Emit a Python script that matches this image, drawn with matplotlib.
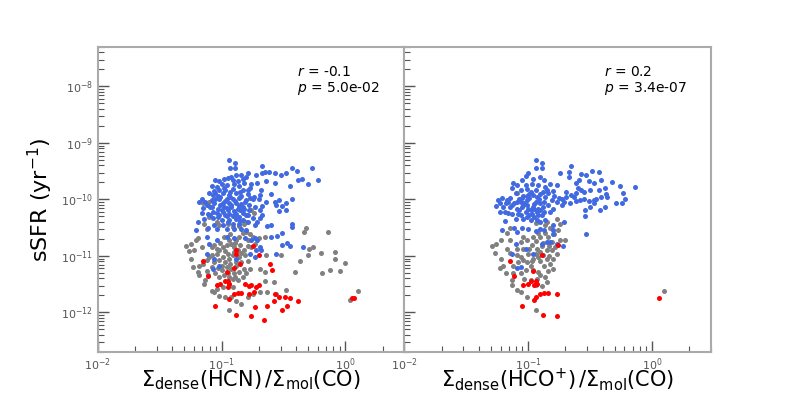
import numpy as np
import matplotlib.pyplot as plt
from matplotlib import ticker

# log10 values: (log10 ratio, log10 sSFR)
hcn_blue = [
    (-0.94, -9.31), (-0.89, -9.36), (-0.93, -9.45), (-0.89, -9.45), (-0.67, -9.41), (-0.27, -9.44),
    (-0.43, -9.45), (-0.39, -9.49), (-0.72, -9.56), (-0.67, -9.53), (-0.65, -9.52), (-0.62, -9.52),
    (-0.57, -9.53), (-0.52, -9.56), (-0.48, -9.53), (-0.79, -9.54), (-0.80, -9.60), (-0.84, -9.57),
    (-0.88, -9.56), (-0.92, -9.60), (-0.95, -9.62), (-0.98, -9.64), (-1.02, -9.67), (-1.05, -9.66),
    (-1.08, -9.76), (-0.57, -9.70), (-0.71, -9.70), (-0.76, -9.72), (-0.64, -9.67), (-0.35, -9.64),
    (-0.38, -9.65), (-0.22, -9.66), (-0.30, -9.73), (-0.45, -9.76), (-0.68, -9.83), (-0.77, -9.80),
    (-0.83, -9.83), (-0.91, -9.82), (-0.97, -9.83), (-1.02, -9.83), (-1.06, -9.85), (-1.10, -9.89),
    (-0.60, -9.91), (-0.74, -9.95), (-0.69, -9.92), (-0.79, -9.91), (-1.16, -10.00), (-1.18, -10.04),
    (-1.13, -10.04), (-1.08, -10.01), (-1.02, -10.00), (-0.96, -9.99), (-0.91, -9.99), (-0.86, -9.98),
    (-0.80, -10.01), (-0.75, -10.00), (-0.70, -10.00), (-0.64, -10.05), (-0.57, -10.04), (-0.54, -10.01),
    (-0.48, -10.06), (-0.43, -9.99), (-0.48, -10.18), (-0.51, -10.12), (-0.54, -10.20), (-0.56, -10.10),
    (-0.73, -10.13), (-0.69, -10.19), (-0.67, -10.11), (-1.15, -10.15), (-1.08, -10.13), (-1.03, -10.16),
    (-0.98, -10.13), (-0.92, -10.13), (-0.87, -10.16), (-0.83, -10.13), (-1.16, -10.24), (-1.11, -10.26),
    (-1.04, -10.24), (-0.99, -10.22), (-0.94, -10.25), (-0.88, -10.26), (-0.83, -10.24), (-0.79, -10.28),
    (-1.14, -10.34), (-1.07, -10.32), (-1.00, -10.37), (-0.94, -10.36), (-0.88, -10.34), (-0.83, -10.37),
    (-0.67, -10.28), (-0.69, -10.33), (-0.71, -10.40), (-0.73, -10.46), (-1.19, -10.40), (-1.21, -10.54),
    (-1.11, -10.50), (-1.04, -10.52), (-0.96, -10.53), (-0.90, -10.53), (-0.84, -10.53), (-0.80, -10.54),
    (-0.60, -10.46), (-0.63, -10.47), (-0.43, -10.43), (-0.43, -10.49), (-0.51, -10.60), (-0.55, -10.65),
    (-0.60, -10.66), (-0.47, -10.77), (-0.45, -10.83), (-0.51, -10.80), (-0.56, -10.96), (-0.34, -10.84),
    (-0.73, -10.69), (-0.71, -10.71), (-0.69, -10.84), (-0.68, -10.90), (-0.72, -10.90), (-0.73, -11.02),
    (-1.12, -10.66), (-1.10, -10.78), (-1.04, -10.72), (-0.96, -10.67), (-0.90, -10.69), (-0.81, -10.68),
    (-0.76, -10.72), (-1.07, -11.23), (-1.02, -11.17), (-1.06, -11.05), (-1.12, -10.96), (-0.88, -11.05),
    (-0.77, -10.96), (-1.04, -9.78), (-1.00, -9.72), (-0.96, -9.75), (-0.90, -9.72), (-0.86, -9.76),
    (-0.82, -9.70), (-0.99, -9.89), (-0.94, -9.92), (-0.88, -9.89), (-0.84, -9.94), (-1.03, -9.94),
    (-1.07, -9.92), (-0.99, -10.06), (-0.94, -10.07), (-0.88, -10.07), (-0.84, -10.08), (-0.78, -10.10),
    (-1.06, -10.07), (-1.12, -10.10), (-1.00, -10.19), (-0.95, -10.19), (-0.90, -10.20), (-0.85, -10.18),
    (-0.78, -10.19), (-1.07, -10.22), (-0.96, -10.30), (-0.91, -10.30), (-0.86, -10.31), (-1.03, -10.31),
    (-0.75, -10.32), (-0.91, -10.43), (-0.86, -10.44), (-0.99, -10.46), (-0.79, -10.40),
    (-1.01, -9.95), (-0.97, -10.03), (-0.93, -9.96), (-0.89, -10.02), (-0.85, -9.95), (-0.81, -10.05),
    (-0.77, -9.97), (-1.05, -10.00), (-1.09, -10.14), (-1.01, -10.10), (-0.96, -10.15), (-0.92, -10.09),
    (-0.86, -10.12), (-0.82, -10.16), (-0.80, -10.28), (-0.90, -10.27), (-0.97, -10.27), (-1.02, -10.28),
    (-1.09, -10.28), (-0.93, -9.86), (-0.85, -9.86), (-0.79, -9.84), (-0.98, -9.80), (-1.05, -9.89),
    (-0.91, -9.65), (-0.87, -9.68), (-0.83, -9.63), (-0.95, -10.40), (-0.85, -10.38), (-1.06, -10.45),
]
hcn_gray = [
    (-1.29, -10.83), (-1.25, -10.79), (-1.21, -10.72), (-1.26, -10.92), (-1.22, -10.90), (-1.16, -10.85),
    (-1.25, -11.05), (-1.23, -11.20), (-1.18, -11.18), (-1.19, -11.28), (-1.18, -11.33), (-1.12, -11.27),
    (-1.11, -11.34), (-1.15, -11.15), (-1.10, -11.02), (-1.08, -10.99), (-1.04, -10.96), (-1.02, -10.90),
    (-0.99, -10.85), (-0.96, -10.81), (-0.92, -10.78), (-0.88, -10.72), (-0.86, -10.66), (-0.83, -10.60),
    (-0.80, -10.57), (-0.77, -10.62), (-0.75, -10.66), (-0.73, -10.79), (-0.76, -10.84), (-0.79, -10.83),
    (-0.82, -10.89), (-0.84, -10.95), (-0.86, -11.02), (-0.91, -10.99), (-0.94, -11.05), (-0.97, -11.11),
    (-1.00, -11.17), (-1.02, -11.07), (-1.06, -11.11), (-1.08, -11.20), (-1.05, -11.31), (-1.02, -11.37),
    (-0.98, -11.34), (-0.95, -11.30), (-0.92, -11.23), (-0.88, -11.17), (-0.90, -11.31), (-0.91, -11.40),
    (-0.87, -11.43), (-0.83, -11.37), (-0.80, -11.31), (-0.82, -11.23), (-0.77, -11.23), (-0.91, -11.55),
    (-0.94, -11.49), (-0.99, -11.55), (-1.04, -11.58), (-1.08, -11.62), (-1.14, -11.50), (-1.13, -11.43),
    (-1.06, -11.64), (-1.02, -11.70), (-0.97, -11.73), (-0.92, -11.73), (-0.88, -11.79), (-0.84, -11.85),
    (-0.94, -11.96), (-0.79, -11.73), (-0.75, -11.68), (-0.69, -11.64), (-0.65, -11.44), (-0.63, -11.64),
    (-0.58, -11.46), (-0.56, -11.67), (-0.48, -11.61), (-0.41, -11.28), (-0.37, -11.09), (-0.33, -10.57),
    (-0.32, -10.50), (-0.14, -10.57), (-0.29, -10.87), (-0.26, -10.85), (-0.20, -10.95), (-0.08, -10.93),
    (-0.08, -11.05), (-0.30, -10.99), (-0.19, -11.30), (-0.12, -11.24), (-0.04, -11.27), (0.00, -11.12),
    (0.04, -11.78), (0.10, -11.62), (-1.12, -10.52), (-1.10, -10.31), (-1.14, -10.43), (-0.76, -10.19),
    (-0.74, -10.24), (-0.80, -10.40), (-0.86, -10.47), (-0.82, -10.44), (-1.04, -10.40), (-1.10, -10.04),
    (-1.15, -10.07), (-1.02, -10.46), (-0.95, -10.44), (-0.91, -10.49), (-1.19, -10.69), (-0.65, -10.66),
    (-0.64, -10.99), (-0.69, -11.23), (-0.65, -11.28), (-0.52, -10.99), (-0.70, -10.68), (-0.98, -10.66),
    (-0.94, -10.72), (-0.90, -10.84), (-0.87, -10.90), (-0.95, -10.96), (-0.99, -11.02), (-0.88, -11.11),
    (-0.96, -11.20), (-0.86, -11.28), (-1.00, -11.25), (-0.94, -11.37), (-1.04, -10.87), (-1.08, -10.84),
    (-1.12, -11.08), (-0.93, -10.62), (-0.89, -10.77), (-0.85, -10.80), (-0.79, -10.72), (-0.81, -10.98),
    (-0.90, -10.93), (-0.97, -10.91), (-1.01, -10.77), (-1.06, -10.80), (-0.93, -11.14), (-0.84, -11.11),
    (-0.79, -11.09), (-1.03, -11.22), (-0.89, -11.37),
]
hcn_red = [
    (-1.15, -11.09), (-1.11, -11.36), (-1.04, -11.51), (-1.01, -11.50), (-0.97, -11.45), (-0.95, -11.44),
    (-0.94, -11.50), (-0.95, -11.55), (-0.90, -11.21), (-0.88, -10.97), (-0.88, -10.90), (-0.85, -11.15),
    (-0.81, -11.50), (-0.78, -11.54), (-0.76, -11.51), (-0.74, -11.64), (-0.72, -11.55), (-0.70, -11.51),
    (-0.90, -11.67), (-0.87, -11.66), (-0.84, -11.66), (-0.78, -11.68), (-0.75, -10.83), (-0.70, -10.99),
    (-0.61, -11.15), (-0.59, -11.25), (-0.57, -11.68), (-0.54, -11.73), (-0.49, -11.73), (-0.45, -11.75),
    (-0.38, -11.80), (-0.58, -11.80), (-0.51, -11.96), (-0.47, -11.89), (-0.63, -11.89), (-0.73, -11.91),
    (-0.76, -12.07), (-0.66, -12.13), (-0.88, -12.05), (-1.05, -11.89), (-0.94, -11.76), (0.05, -11.75),
    (0.07, -11.74), (-0.96, -11.28),
]

hco_blue = [
    (-0.94, -9.31), (-0.89, -9.36), (-0.94, -9.45), (-0.89, -9.45), (-0.65, -9.41), (-0.74, -9.53),
    (-0.67, -9.52), (-0.67, -9.60), (-0.57, -9.55), (-0.53, -9.56), (-0.48, -9.49), (-0.43, -9.52),
    (-0.59, -9.65), (-0.61, -9.70), (-0.51, -9.67), (-0.47, -9.70), (-0.41, -9.65), (-0.32, -9.69),
    (-0.26, -9.76), (-0.14, -9.78), (-0.38, -9.80), (-0.43, -9.83), (-0.50, -9.83), (-0.55, -9.86),
    (-0.57, -9.83), (-0.61, -9.89), (-0.65, -9.92), (-0.69, -9.95), (-0.73, -10.00), (-0.77, -10.04),
    (-0.81, -10.01), (-0.84, -9.88), (-0.80, -9.85), (-0.77, -9.75), (-0.82, -9.72), (-0.87, -9.65),
    (-0.90, -9.61), (-0.96, -9.63), (-1.00, -9.54), (-1.02, -9.59), (-1.05, -9.66), (-1.09, -9.75),
    (-1.12, -9.70), (-1.02, -9.75), (-0.97, -9.72), (-1.06, -9.83), (-1.10, -9.89), (-1.15, -9.98),
    (-1.17, -10.01), (-1.21, -9.98), (-1.24, -10.01), (-1.26, -10.12), (-1.23, -10.07), (-1.20, -10.13),
    (-1.23, -10.22), (-1.19, -10.22), (-1.16, -10.04), (-1.13, -10.10), (-1.09, -10.04), (-1.05, -9.98),
    (-1.01, -9.94), (-0.96, -9.92), (-0.90, -9.91), (-0.86, -9.95), (-1.09, -10.16), (-1.05, -10.13),
    (-1.01, -10.10), (-0.96, -10.13), (-0.92, -10.16), (-0.88, -10.13), (-0.84, -10.10), (-1.13, -10.25),
    (-1.08, -10.26), (-1.02, -10.22), (-0.97, -10.25), (-0.92, -10.28), (-0.87, -10.22), (-1.04, -10.34),
    (-0.98, -10.36), (-0.93, -10.37), (-0.90, -10.40), (-0.86, -10.37), (-0.82, -10.22), (-0.80, -10.16),
    (-0.73, -10.10), (-0.66, -10.07), (-0.61, -10.02), (-0.58, -10.01), (-0.55, -10.00), (-0.51, -10.03),
    (-0.47, -10.01), (-0.45, -10.00), (-0.41, -9.96), (-0.37, -9.91), (-0.36, -9.96), (-0.29, -10.06),
    (-0.24, -10.06), (-0.22, -9.99), (-0.23, -9.88), (-0.47, -10.07), (-0.50, -10.13), (-0.54, -10.19),
    (-0.54, -10.30), (-0.53, -10.62), (-0.38, -10.13), (-0.42, -10.18), (-1.19, -10.38), (-1.21, -10.54),
    (-1.11, -10.50), (-1.09, -10.57), (-1.05, -10.50), (-1.00, -10.52), (-0.94, -10.56), (-0.90, -10.53),
    (-0.87, -10.54), (-0.80, -10.46), (-0.80, -10.54), (-0.80, -10.62), (-0.71, -10.40), (-0.72, -10.82),
    (-0.77, -10.78), (-0.82, -10.75), (-0.85, -10.75), (-0.89, -10.78), (-1.10, -10.78), (-1.13, -10.96),
    (-1.02, -10.87), (-0.96, -10.96), (-1.09, -11.21), (-1.06, -11.20), (-1.06, -10.04), (-1.01, -10.01),
    (-0.94, -10.04), (-0.90, -10.07), (-0.98, -10.19), (-0.93, -10.22), (-1.04, -10.10), (-0.89, -10.28),
    (-1.01, -10.31), (-1.10, -10.34), (-0.94, -9.83), (-0.98, -9.86), (-1.01, -9.82), (-0.85, -9.83),
    (-1.07, -10.00), (-1.03, -10.06), (-0.99, -9.98), (-0.95, -10.08), (-0.91, -10.00), (-0.87, -10.05),
    (-1.11, -10.07), (-1.15, -10.13), (-1.07, -10.19), (-1.00, -10.16), (-0.95, -10.17), (-0.90, -10.19),
    (-1.06, -10.28), (-0.99, -10.27), (-0.95, -10.31), (-1.16, -10.24), (-0.93, -9.95), (-0.99, -9.90),
    (-1.04, -9.93), (-0.88, -9.87), (-0.92, -9.75), (-0.86, -9.78), (-0.79, -9.93), (-0.75, -9.97),
    (-0.71, -10.04), (-0.69, -9.86), (-0.63, -9.95), (-0.60, -9.80), (-1.13, -9.80), (-1.18, -10.06),
]
hco_gray = [
    (-1.29, -10.83), (-1.26, -10.78), (-1.22, -10.71), (-1.27, -10.95), (-1.22, -11.05), (-1.17, -10.87),
    (-1.15, -10.94), (-1.23, -11.21), (-1.20, -11.18), (-1.18, -11.31), (-1.12, -11.31), (-1.13, -11.43),
    (-1.13, -11.52), (-1.09, -11.61), (-1.06, -11.64), (-1.01, -11.73), (-0.94, -11.96), (-1.09, -10.99),
    (-1.06, -11.02), (-1.04, -11.08), (-1.08, -11.11), (-1.12, -11.17), (-1.01, -11.11), (-0.98, -11.17),
    (-0.96, -11.25), (-0.92, -11.28), (-0.90, -11.34), (-0.86, -11.37), (-0.93, -11.40), (-0.98, -11.43),
    (-0.94, -11.52), (-0.89, -11.54), (-0.85, -11.46), (-0.80, -11.23), (-0.82, -11.14), (-0.80, -11.05),
    (-0.85, -11.05), (-0.88, -10.99), (-0.90, -10.93), (-0.93, -10.87), (-0.97, -10.81), (-1.01, -10.72),
    (-1.04, -10.66), (-0.96, -10.66), (-0.90, -10.66), (-0.86, -10.60), (-0.84, -10.66), (-0.81, -10.75),
    (-0.78, -10.84), (-0.77, -10.96), (-0.81, -10.90), (-0.85, -10.90), (-0.74, -10.72), (-0.70, -10.72),
    (-0.76, -10.54), (-0.74, -10.44), (-0.77, -10.35), (-0.85, -10.40), (-0.86, -10.46), (-0.94, -10.41),
    (-1.09, -9.88), (-1.15, -10.50), (-1.17, -10.60), (-1.15, -10.72), (-1.09, -10.87), (-0.89, -10.83),
    (-0.92, -11.02), (-0.96, -11.05), (-1.00, -10.96), (-1.04, -10.87), (0.10, -11.62), (-1.06, -11.31),
    (-1.02, -11.25), (-0.94, -10.73), (-0.88, -10.77), (-0.83, -10.82), (-0.79, -10.62), (-0.83, -11.00),
    (-0.94, -10.96), (-0.99, -10.88), (-1.06, -10.76), (-0.97, -11.09), (-0.87, -11.17), (-0.90, -11.09),
    (-0.84, -11.26), (-1.03, -11.40), (-0.92, -10.59), (-0.82, -10.50),
]
hco_red = [
    (-1.15, -11.09), (-1.11, -11.36), (-1.04, -11.51), (-1.00, -11.50), (-0.98, -11.44), (-0.94, -11.44),
    (-0.95, -11.52), (-0.93, -11.50), (-0.96, -11.27), (-0.89, -10.98), (-0.76, -10.80), (-0.77, -11.67),
    (-0.84, -11.66), (-0.87, -11.66), (-0.90, -11.68), (-0.94, -11.73), (-0.95, -11.78), (-1.05, -11.89),
    (-0.88, -12.05), (-0.77, -12.07), (0.06, -11.75),
]

panels = [
    (hcn_gray, hcn_blue, hcn_red, r'$\Sigma_{\rm dense}$(HCN)$\,/\Sigma_{\rm mol}$(CO)', '-0.1', '5.0e-02'),
    (hco_gray, hco_blue, hco_red, r'$\Sigma_{\rm dense}$(HCO$^{+}$)$\,/\Sigma_{\rm mol}$(CO)', '0.2', '3.4e-07'),
]

fig, axes = plt.subplots(1, 2, figsize=(7.89, 3.95), dpi=100, sharey=True)
fig.subplots_adjust(left=0.124, right=0.901, bottom=0.109, top=0.881, wspace=0)

for ax, (gray, blue, red, xlab, r, p) in zip(axes, panels):
    for pts, col in [(gray, 'gray'), (blue, 'royalblue'), (red, 'red')]:
        lx, ly = np.array(pts).T
        ax.scatter(10 ** lx, 10 ** ly, s=13, color=col, lw=0)
    ax.set_xscale('log')
    ax.set_yscale('log')
    ax.set_xlim(1e-2, 3)
    ax.set_ylim(2e-13, 5e-8)
    ax.set_xlabel(xlab, fontsize=15, va='baseline')
    ax.xaxis.set_label_coords(0.5, -0.113)
    ax.text(0.65, 0.94, '$r$ = %s\n$p$ = %s' % (r, p), transform=ax.transAxes,
            va='top', ha='left', fontsize=10, linespacing=1.05)
    for sp in ax.spines.values():
        sp.set_color('#aaaaaa')
        sp.set_linewidth(1.5)
    ax.tick_params(which='both', direction='in', colors='#555555', labelsize=8,
                   top=False, right=False)
    ax.tick_params(which='major', length=8, width=1)
    ax.tick_params(which='minor', length=4, width=0.8)
    for axis in (ax.xaxis, ax.yaxis):
        axis.set_minor_locator(ticker.LogLocator(base=10, subs=np.arange(2, 10), numticks=20))
        axis.set_minor_formatter(ticker.NullFormatter())

axes[0].set_ylabel(r'sSFR (yr$^{-1}$)', fontsize=16)
axes[0].set_yticks([1e-12, 1e-11, 1e-10, 1e-9, 1e-8])

fig.savefig('out.png', dpi=100)
